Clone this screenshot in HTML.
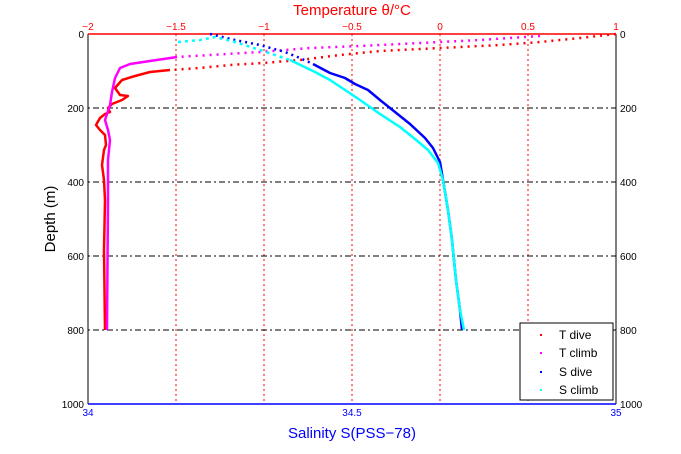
<!DOCTYPE html>
<html><head><style>body{margin:0;background:#fff}svg{display:block}</style></head><body>
<svg width="681" height="454" xmlns="http://www.w3.org/2000/svg" font-family="Liberation Sans, sans-serif">
<rect width="681" height="454" fill="#fff"/>
<g stroke="red" stroke-width="1" stroke-dasharray="2,3">
<line x1="176" y1="34" x2="176" y2="404"/><line x1="264" y1="34" x2="264" y2="404"/><line x1="352" y1="34" x2="352" y2="404"/><line x1="440" y1="34" x2="440" y2="404"/><line x1="528" y1="34" x2="528" y2="404"/>
</g>
<g stroke="#000" stroke-width="1" stroke-dasharray="2,3,6,3">
<line x1="88" y1="108" x2="616" y2="108"/><line x1="88" y1="182" x2="616" y2="182"/><line x1="88" y1="256" x2="616" y2="256"/><line x1="88" y1="330" x2="616" y2="330"/>
</g>
<line x1="88" y1="34" x2="88" y2="404" stroke="#000"/>
<line x1="616" y1="34" x2="616" y2="404" stroke="#000"/>
<line x1="88" y1="34" x2="616" y2="34" stroke="red" stroke-width="1.5"/>
<line x1="88" y1="404" x2="616" y2="404" stroke="blue" stroke-width="1.5"/>
<g fill="none" stroke-width="2.5" stroke-linejoin="round">
<polyline stroke="red" stroke-dasharray="2,5" points="616,34 580,38 540,42 500,45 460,47 420,49 380,51 340,55 300,60 263,63 230,65 200,68 170,70"/>
<polyline stroke="red" points="170,70 150,72 135,76 122,80 115,88 120,95 128,96 122,100 112,104 108,108 110,112 105,114 100,118 96,125 100,130 105,135 106,145 104,150 102,165 104,180 105,200 104,250 105,330"/>
<polyline stroke="#f0f" stroke-dasharray="2,5" points="540,36 480,40 420,43 360,46 310,48 260,52 210,55 177,57"/>
<polyline stroke="#f0f" points="177,57 150,61 130,64 120,68 115,78 112,92 110,105 105,120 108,130 110,140 108,160 108,200 107,330"/>
<polyline stroke="blue" stroke-dasharray="2,4" points="210,34 235,40 260,45 285,52 300,58 313,64"/>
<polyline stroke="blue" points="313,64 330,73 345,78 355,84 368,90 380,100 395,112 410,124 425,138 433,148 440,162 443,180 448,210 452,240 456,280 460,310 462,330"/>
<polyline stroke="#0ff" stroke-dasharray="3,4" points="178,42 200,40 215,37 235,42 260,50 290,60"/>
<polyline stroke="#0ff" points="290,60 315,72 330,80 345,90 360,100 380,114 400,127 415,139 428,150 438,163 443,180 448,210 452,240 456,280 460,310 464,330"/>
</g>
<g font-size="10" fill="red" text-anchor="middle">
<text x="88" y="30">−2</text><text x="176" y="30">−1.5</text><text x="264" y="30">−1</text><text x="352" y="30">−0.5</text><text x="440" y="30">0</text><text x="528" y="30">0.5</text><text x="616" y="30">1</text>
</g>
<g font-size="10" fill="#000" text-anchor="end">
<text x="84" y="38">0</text><text x="84" y="112">200</text><text x="84" y="186">400</text><text x="84" y="260">600</text><text x="84" y="334">800</text><text x="84" y="408">1000</text>
</g>
<g font-size="10" fill="#000">
<text x="620" y="38">0</text><text x="620" y="112">200</text><text x="620" y="186">400</text><text x="620" y="260">600</text><text x="620" y="334">800</text><text x="620" y="408">1000</text>
</g>
<g font-size="10" fill="blue" text-anchor="middle">
<text x="88" y="416">34</text><text x="352" y="416">34.5</text><text x="616" y="416">35</text>
</g>
<text x="352" y="15" font-size="15" fill="red" text-anchor="middle">Temperature θ/°C</text>
<text x="352" y="438" font-size="15" fill="blue" text-anchor="middle">Salinity S(PSS−78)</text>
<text transform="translate(55,219) rotate(-90)" font-size="15" fill="#000" text-anchor="middle">Depth (m)</text>
<rect x="520" y="323" width="93" height="77" fill="#fff" stroke="#000"/>
<g font-size="12" fill="#000">
<text x="559" y="339">T dive</text><text x="559" y="357">T climb</text><text x="559" y="376">S dive</text><text x="559" y="394">S climb</text>
</g>
<rect x="540" y="334" width="2" height="2" fill="red"/><rect x="540" y="352" width="2" height="2" fill="#f0f"/><rect x="540" y="371" width="2" height="2" fill="blue"/><rect x="540" y="389" width="2" height="2" fill="#0ff"/>
</svg>
</body></html>
